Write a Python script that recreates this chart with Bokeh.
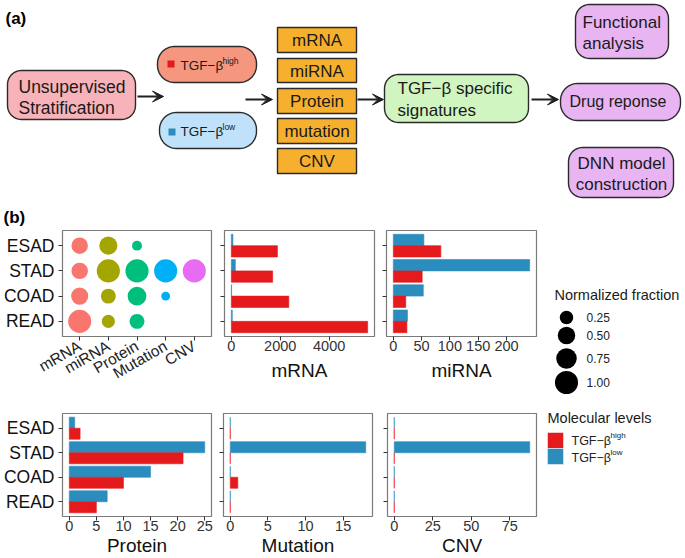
import numpy as np
from bokeh.plotting import figure
from bokeh.models import Range1d, FactorRange, FixedTicker, ColumnDataSource, Arrow, VeeHead
from bokeh.transform import dodge
from bokeh.layouts import column, row
from bokeh.core.properties import value
from bokeh.embed import file_html
from bokeh.resources import INLINE

# ---------------- data ----------------
cancers = ["ESAD", "STAD", "COAD", "READ"]
levels = ["mRNA", "miRNA", "Protein", "Mutation", "CNV"]
level_colors = ["#F8766D", "#A3A500", "#00BF7D", "#00B0F6", "#E76BF3"]

# normalized fraction per cancer (0 = no dot)
frac_mRNA = [0.43, 0.43, 0.48, 1.00]
frac_miRNA = [0.55, 1.00, 0.33, 0.23]
frac_Protein = [0.10, 1.00, 0.60, 0.33]
frac_Mutation = [0.00, 1.00, 0.07, 0.00]
frac_CNV = [0.00, 1.00, 0.00, 0.00]
size_breaks = [0.25, 0.50, 0.75, 1.00]

mrna_high = [1885, 1690, 2350, 5575]
mrna_low = [65, 165, 12, 40]
mirna_high = [84, 51, 22, 24]
mirna_low = [54, 241, 53, 25]
protein_high = [2, 21, 10, 5]
protein_low = [1, 25, 15, 7]
mutation_high = [0, 0, 1, 0]
mutation_low = [0, 18, 0, 0]
cnv_high = [0, 0, 0, 0]
cnv_low = [0, 88, 0, 0]

ticks_mrna = [0, 2000, 4000]
ticks_mirna = [0, 50, 100, 150, 200]
ticks_protein = [0, 5, 10, 15, 20, 25]
ticks_mutation = [0, 5, 10, 15]
ticks_cnv = [0, 25, 50, 75]

RED = "#E41A1C"
BLUE = "#2B8CBE"
FONT = "Liberation Sans"
K = 3.85


def dot_size(v):
    return K * (1 + 5 * np.sqrt(np.asarray(v, dtype=float)))


def txt(p, x, y, s, size, align="left", bold=False, color="#1a1a1a", baseline="middle"):
    p.text(x=[x], y=[y], text=[s], text_font=value(FONT), text_font_size=value(size),
           text_align=align, text_baseline=baseline, text_color=color,
           text_font_style="bold" if bold else "normal")


# ---------------- (a) flowchart ----------------
top = figure(width=685, height=226, x_range=Range1d(0, 685), y_range=Range1d(226, 0),
             output_backend="svg", toolbar_location=None, min_border=0,
             x_axis_location=None, y_axis_location=None)
top.grid.visible = False
top.outline_line_color = None


def rrect(x0, y0, x1, y1, r, n=12):
    xs, ys = [], []
    for cx, cy, a0 in [(x1 - r, y0 + r, -90), (x1 - r, y1 - r, 0), (x0 + r, y1 - r, 90), (x0 + r, y0 + r, 180)]:
        for t in np.linspace(a0, a0 + 90, n):
            xs.append(cx + r * np.cos(np.radians(t)))
            ys.append(cy + r * np.sin(np.radians(t)))
    return xs, ys


boxes = [
    (7, 70, 135, 119, 14, "#F7B3B9"),
    (157, 46, 256, 82, 17, "#F5967F"),
    (159, 112, 256, 148, 17, "#BFE1FA"),
    (384, 74, 528, 122, 14, "#D0F5C0"),
    (575, 4, 668, 58, 14, "#E8B4F2"),
    (560, 83, 680, 120, 17, "#E8B4F2"),
    (568, 147, 673, 197, 14, "#E8B4F2"),
]
bx, by, bc = [], [], []
for x0, y0, x1, y1, r, c in boxes:
    xs, ys = rrect(x0, y0, x1, y1, r)
    bx.append(xs); by.append(ys); bc.append(c)
top.patches(bx, by, fill_color=bc, line_color="#2a2a2a", line_width=1.4)

orange_y = [(27, 52), (58, 82), (88, 113), (118, 143), (148, 173)]
top.quad(left=[277] * 5, right=[356] * 5, top=[a for a, b in orange_y], bottom=[b for a, b in orange_y],
         fill_color="#F6B02E", line_color="#2a2a2a", line_width=1.4)
orange_labels = ["mRNA", "miRNA", "Protein", "mutation", "CNV"]
for (a, b), s in zip(orange_y, orange_labels):
    txt(top, 316.5, (a + b) / 2 + 0.5, s, "17px", align="center")

for xs, xe, y in [(137, 163, 96), (245, 272, 99), (357, 383, 99), (531, 558, 99)]:
    top.add_layout(Arrow(end=VeeHead(size=11, fill_color="#231F20", line_color="#231F20", line_width=1),
                         x_start=xs, y_start=y, x_end=xe, y_end=y, line_width=2, line_color="#231F20"))

txt(top, 5, 18, "(a)", "17px", bold=True, color="#000000")
txt(top, 3, 217, "(b)", "17px", bold=True, color="#000000")
txt(top, 18, 86, "Unsupervised", "17.5px")
txt(top, 18, 107, "Stratification", "17.5px")

top.quad(left=[167, 168], right=[174, 175], top=[60, 128], bottom=[67, 135], fill_color=[RED, BLUE], line_color=None)
txt(top, 180, 65, "TGF\u2212\u03b2", "13.5px")
txt(top, 222, 60, "high", "8.5px")
txt(top, 180, 131, "TGF\u2212\u03b2", "13.5px")
txt(top, 222, 126, "low", "8.5px")

txt(top, 397, 88, "TGF\u2212\u03b2 specific", "17px")
txt(top, 397, 110, "signatures", "17px")
txt(top, 582, 22, "Functional", "17px")
txt(top, 582, 43, "analysis", "17px")
txt(top, 569, 101, "Drug reponse", "16px")
txt(top, 621, 163, "DNN model", "17px", align="center")
txt(top, 621, 184, "construction", "17px", align="center")


# ---------------- (b) panels ----------------
def style(p, xlabel=None, ylabels=True, tick_fs="14.5px", title_fs="19px", title_standoff=4, ytick_fs="17.5px"):
    p.grid.visible = False
    p.outline_line_color = "#7a7a7a"
    p.outline_line_width = 1.2
    for ax in [p.xaxis, p.yaxis]:
        ax.axis_line_color = None
        ax.major_tick_line_color = "#333333"
        ax.major_tick_in = 0
        ax.major_tick_out = 4
        ax.minor_tick_line_color = None
        ax.major_label_text_font = FONT
    p.xaxis.major_label_text_font_size = tick_fs
    p.xaxis.major_label_text_color = "#333333"
    p.xaxis.major_label_standoff = 0
    if xlabel:
        p.xaxis.axis_label = xlabel
        p.xaxis.axis_label_text_font = FONT
        p.xaxis.axis_label_text_font_size = title_fs
        p.xaxis.axis_label_text_font_style = "normal"
        p.xaxis.axis_label_text_color = "#111111"
        p.xaxis.axis_label_standoff = title_standoff
    if ylabels:
        p.yaxis.major_label_text_font_size = ytick_fs
        p.yaxis.major_label_text_color = "#111111"
        p.yaxis.major_label_standoff = 4
    else:
        p.yaxis.major_label_text_font_size = "1px"
        p.yaxis.major_label_text_color = None
        p.yaxis.major_label_standoff = 0


def bar_panel(high, low, ticks, label, ylabels, h, tb, bb, w, lb, rb, tick_fs, title_fs, title_standoff):
    mx = max(high + low)
    yr = FactorRange(factors=cancers[::-1], range_padding=0.1, range_padding_units="absolute")
    p = figure(width=w, height=h, x_range=Range1d(-0.05 * mx, 1.05 * mx), y_range=yr,
               output_backend="svg", toolbar_location=None,
               min_border_left=lb, min_border_right=rb, min_border_top=tb, min_border_bottom=bb)
    src = ColumnDataSource(dict(cancer=cancers, high=high, low=low))
    p.hbar(y=dodge("cancer", 0.225, range=yr), left=0, right="low", height=0.45, source=src,
           fill_color=BLUE, line_color=BLUE, line_alpha=0.6, line_width=1)
    p.hbar(y=dodge("cancer", -0.225, range=yr), left=0, right="high", height=0.45, source=src,
           fill_color=RED, line_color=RED, line_alpha=0.6, line_width=1)
    style(p, xlabel=label, ylabels=ylabels, tick_fs=tick_fs, title_fs=title_fs, title_standoff=title_standoff)
    p.xaxis.ticker = FixedTicker(ticks=ticks)
    return p


H1, TB1, BB1 = 167, 4, 57
H2, TB2, BB2 = 165, 20, 39

# dot plot
xr = FactorRange(factors=levels, range_padding=0.1, range_padding_units="absolute")
yr = FactorRange(factors=cancers[::-1], range_padding=0.1, range_padding_units="absolute")
dot = figure(width=218, height=H1, x_range=xr, y_range=yr, output_backend="svg", toolbar_location=None,
             min_border_left=61, min_border_right=7, min_border_top=TB1, min_border_bottom=BB1)
fracs = [frac_mRNA, frac_miRNA, frac_Protein, frac_Mutation, frac_CNV]
dx, dy, dv, dc = [], [], [], []
for lev, col, fr in zip(levels, level_colors, fracs):
    for cn, v in zip(cancers, fr):
        if v > 0:
            dx.append(lev); dy.append(cn); dv.append(v); dc.append(col)
dsrc = ColumnDataSource(dict(level=dx, cancer=dy, size=dot_size(dv), color=dc))
dot.scatter(x="level", y="cancer", size="size", fill_color="color", line_color=None, source=dsrc)
style(dot)
dot.xaxis.major_label_orientation = np.pi / 6
dot.xaxis.major_label_text_font_size = "15.5px"
dot.xaxis.major_label_text_color = "#222222"
dot.xaxis.major_label_standoff = 4

p_mrna = bar_panel(mrna_high, mrna_low, ticks_mrna, "mRNA", False, H1, TB1, BB1, 162, 6, 6, "14.5px", "19px", 6)
p_mirna = bar_panel(mirna_high, mirna_low, ticks_mirna, "miRNA", False, H1, TB1, BB1, 162, 6, 6, "14.5px", "19px", 6)
p_prot = bar_panel(protein_high, protein_low, ticks_protein, "Protein", True, H2, TB2, BB2, 218, 62, 7, "14.5px", "19px", 1)
p_mut = bar_panel(mutation_high, mutation_low, ticks_mutation, "Mutation", False, H2, TB2, BB2, 162, 5, 8, "14.5px", "19px", 1)
p_cnv = bar_panel(cnv_high, cnv_low, ticks_cnv, "CNV", False, H2, TB2, BB2, 162, 7, 6, "14.5px", "19px", 1)

# legends
leg = figure(width=143, height=H1 + H2, x_range=Range1d(542, 685), y_range=Range1d(558, 226),
             output_backend="svg", toolbar_location=None, min_border=0,
             x_axis_location=None, y_axis_location=None)
leg.grid.visible = False
leg.outline_line_color = None
txt(leg, 554, 294, "Normalized fraction", "14.5px")
key_y = [317, 335, 358, 382]
leg.scatter(x=[566] * len(size_breaks), y=key_y, size=dot_size(size_breaks), fill_color="black", line_color=None)
for yy, b in zip(key_y, size_breaks):
    txt(leg, 586, yy, f"{b:.2f}", "12px", color="#222222")

txt(leg, 547, 417, "Molecular levels", "14.5px")
leg.quad(left=[547, 547], right=[563, 563], top=[432, 448], bottom=[448, 464], fill_color=[RED, BLUE], line_color="white", line_width=0.5)
txt(leg, 571, 440, "TGF\u2212\u03b2", "12.5px", color="#222222")
txt(leg, 610, 435, "high", "8px", color="#222222")
txt(leg, 571, 457, "TGF\u2212\u03b2", "12.5px", color="#222222")
txt(leg, 610, 452, "low", "8px", color="#222222")

left_block = column(row(dot, p_mrna, p_mirna), row(p_prot, p_mut, p_cnv))
layout = column(top, row(left_block, leg))

open("out.html", "w").write(file_html(layout, INLINE))
